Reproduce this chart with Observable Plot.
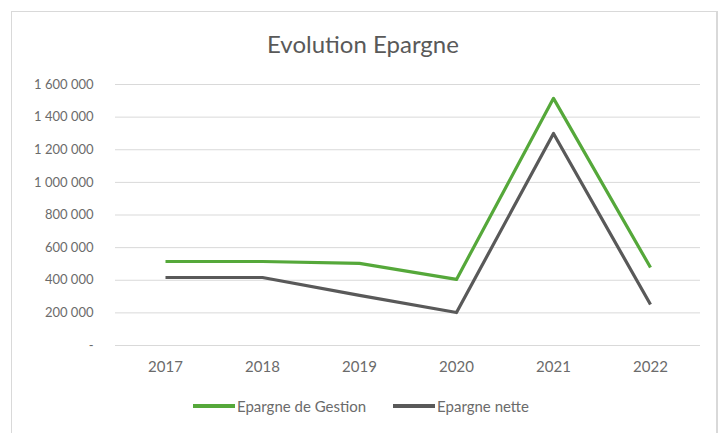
<!DOCTYPE html>
<html>
<head>
<meta charset="utf-8">
<script src="https://cdn.jsdelivr.net/npm/d3@7"></script>
<script src="https://cdn.jsdelivr.net/npm/@observablehq/plot@0.6"></script>
<style>
  body { margin: 0; background: #fff; font-family: Lato, "Open Sans", sans-serif; }
  #frame { position: absolute; left: 11px; top: 11px; width: 707px; height: 430px; border: 1px solid #d9d9d9; border-right-width: 2px; box-sizing: border-box; }
  #title { position: absolute; left: 2px; top: 29px; width: 722px; text-align: center; font-size: 24px; color: #595959; }
  #chart { position: absolute; left: 0; top: 70px; }
  #legend { position: absolute; left: 0; top: 397px; width: 722px; display: flex; justify-content: center; gap: 27px; font-size: 15px; color: #6b6b6b; }
  .item { display: flex; align-items: center; }
  .swatch { width: 42px; height: 4px; margin-right: 2px; }
</style>
</head>
<body>
<div id="frame"></div>
<div id="title">Evolution Epargne</div>
<div id="chart"></div>
<div id="legend"></div>
<script>
const years = ["2017", "2018", "2019", "2020", "2021", "2022"];
const epargneGestion = [515000, 515000, 503000, 405000, 1515000, 478000];
const epargneNette = [417000, 417000, 307000, 202000, 1300000, 251000];
const seriesNames = ["Epargne de Gestion", "Epargne nette"];
const seriesColors = ["#55a83a", "#595959"];
const yTicks = [0, 200000, 400000, 600000, 800000, 1000000, 1200000, 1400000, 1600000];

const data = [];
years.forEach((y, i) => {
  data.push({year: y, value: epargneGestion[i], series: seriesNames[0]});
  data.push({year: y, value: epargneNette[i], series: seriesNames[1]});
});

const fmt = v => v === 0 ? "-" : d3.format(",")(v).replace(/,/g, " ");

const chart = Plot.plot({
  width: 722,
  height: 308,
  marginLeft: 115,
  marginRight: 22,
  marginTop: 14,
  marginBottom: 33,
  style: {fontFamily: "Lato, 'Open Sans', sans-serif", fontSize: "13px", color: "#6b6b6b", background: "transparent"},
  x: {type: "point", domain: years, padding: 0.5, label: null},
  y: {domain: [0, 1600000], ticks: yTicks, label: null},
  color: {domain: seriesNames, range: seriesColors},
  marks: [
    Plot.gridY(yTicks, {stroke: "#d9d9d9", strokeOpacity: 1, strokeWidth: 1}),
    Plot.axisY(yTicks, {tickFormat: fmt, tickSize: 0, tickPadding: 22, fill: "#6b6b6b", fontSize: 13}),
    Plot.axisX({tickSize: 0, tickPadding: 16, fill: "#6b6b6b", fontSize: 15}),
    Plot.line(data, {x: "year", y: "value", z: "series", stroke: "series", strokeWidth: 3.2, strokeLinejoin: "round", strokeLinecap: "butt"})
  ]
});
document.getElementById("chart").appendChild(chart);

const legend = document.getElementById("legend");
seriesNames.forEach((n, i) => {
  const item = document.createElement("div");
  item.className = "item";
  const sw = document.createElement("div");
  sw.className = "swatch";
  sw.style.background = seriesColors[i];
  const t = document.createElement("span");
  t.textContent = n;
  item.appendChild(sw);
  item.appendChild(t);
  legend.appendChild(item);
});
</script>
</body>
</html>
